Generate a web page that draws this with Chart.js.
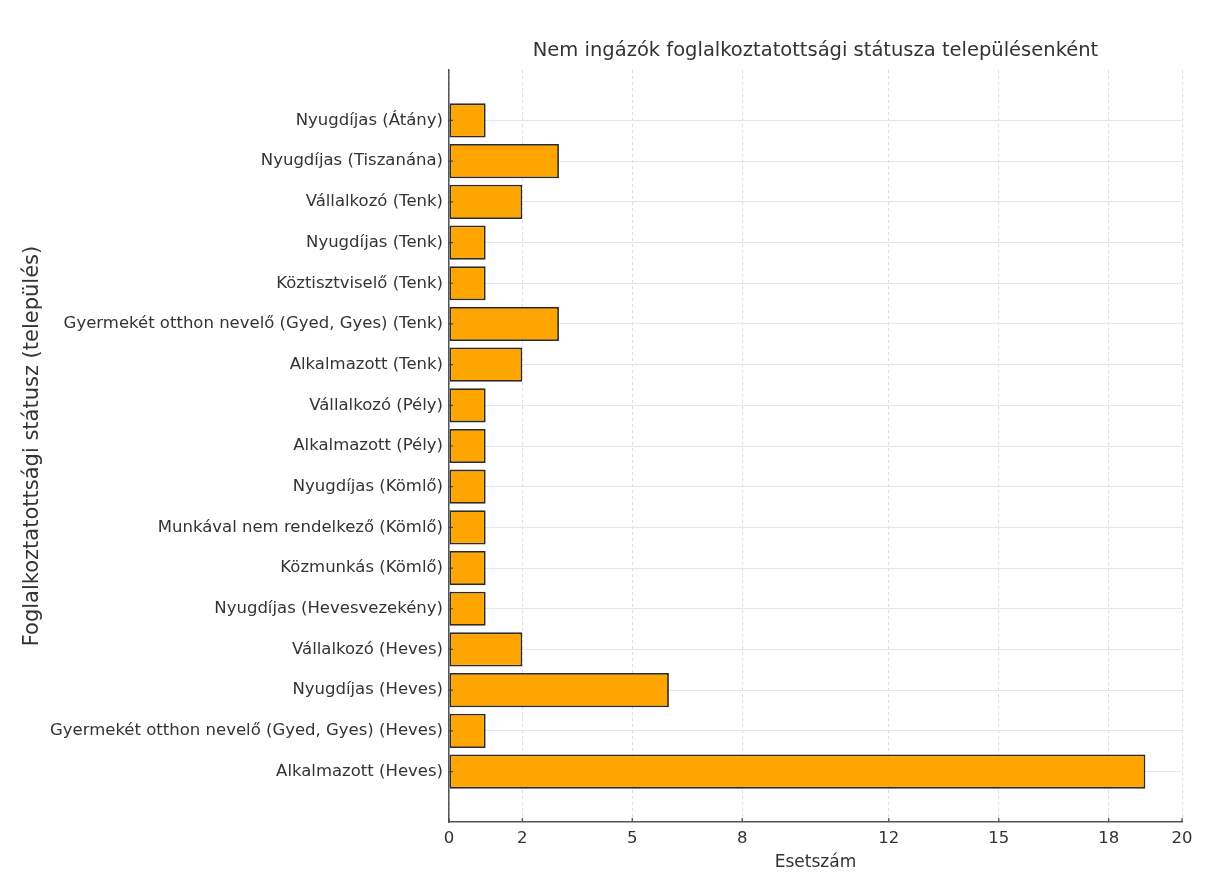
<!DOCTYPE html>
<html>
<head>
<meta charset="utf-8">
<script src="https://cdn.jsdelivr.net/npm/chart.js@4/dist/chart.umd.min.js"></script>
<style>
  html, body { margin: 0; padding: 0; background: #fff; }
  #wrap { width: 1209px; height: 874px; }
</style>
</head>
<body>
<div id="wrap"><canvas id="c" width="1209" height="874"></canvas></div>
<script>
const categories = [
  "Nyugdíjas (Átány)",
  "Nyugdíjas (Tiszanána)",
  "Vállalkozó (Tenk)",
  "Nyugdíjas (Tenk)",
  "Köztisztviselő (Tenk)",
  "Gyermekét otthon nevelő (Gyed, Gyes) (Tenk)",
  "Alkalmazott (Tenk)",
  "Vállalkozó (Pély)",
  "Alkalmazott (Pély)",
  "Nyugdíjas (Kömlő)",
  "Munkával nem rendelkező (Kömlő)",
  "Közmunkás (Kömlő)",
  "Nyugdíjas (Hevesvezekény)",
  "Vállalkozó (Heves)",
  "Nyugdíjas (Heves)",
  "Gyermekét otthon nevelő (Gyed, Gyes) (Heves)",
  "Alkalmazott (Heves)"
];
const counts = [1, 3, 2, 1, 1, 3, 2, 1, 1, 1, 1, 1, 1, 2, 6, 1, 19];
const xTickValues = [0, 2, 5, 8, 12, 15, 18, 20];

const titleText = "Nem ingázók foglalkoztatottsági státusza településenként";
const xTitle = "Esetszám";
const yTitle = "Foglalkoztatottsági státusz (település)";

const points = counts.map((v, i) => ({ x: v, y: i }));
const FONT = "'DejaVu Sans', sans-serif";

const inwardTicks = {
  id: 'inwardTicks',
  afterDatasetsDraw(chart) {
    const ctx = chart.ctx;
    const xs = chart.scales.x, ys = chart.scales.y;
    const a = chart.chartArea;
    ctx.save();
    ctx.strokeStyle = '#444';
    ctx.lineWidth = 1.2;
    ctx.beginPath();
    ys.ticks.forEach(t => {
      const y = ys.getPixelForValue(t.value);
      ctx.moveTo(a.left, y); ctx.lineTo(a.left + 4, y);
    });
    xs.ticks.forEach(t => {
      const x = xs.getPixelForValue(t.value);
      ctx.moveTo(x, a.bottom); ctx.lineTo(x, a.bottom - 4);
    });
    ctx.stroke();
    ctx.restore();
  },
  afterDraw(chart) {
    const ctx = chart.ctx;
    const a = chart.chartArea;
    ctx.save();
    ctx.fillStyle = '#333';
    ctx.font = "19.5px " + FONT;
    ctx.textAlign = 'center';
    ctx.textBaseline = 'middle';
    ctx.fillText(titleText, (a.left + a.right) / 2, 51);
    ctx.restore();
  }
};

new Chart(document.getElementById('c'), {
  type: 'bar',
  data: {
    datasets: [{
      data: points,
      backgroundColor: '#FFA500',
      borderColor: '#2e2a24',
      borderWidth: 1.8,
      borderSkipped: false,
      categoryPercentage: 1.0,
      barPercentage: 0.84
    }]
  },
  options: {
    indexAxis: 'y',
    responsive: false,
    animation: false,
    layout: { padding: { top: 70, right: 27, bottom: 0, left: 0 } },
    plugins: {
      legend: { display: false },
      title: { display: false },
      tooltip: { enabled: false }
    },
    scales: {
      x: {
        type: 'linear',
        min: 0,
        max: 20,
        offset: false,
        afterBuildTicks(scale) { scale.ticks = xTickValues.map(v => ({ value: v })); },
        afterFit(scale) { scale.height = 52; },
        grid: {
          color: '#dcdcdc',
          lineWidth: 1,
          drawTicks: false,
          offset: false
        },
        border: { display: true, color: '#555', width: 1.5, dash: [3, 3], dashOffset: 0 },
        ticks: {
          padding: 7,
          color: '#333',
          font: { family: FONT, size: 16.5 },
          maxRotation: 0,
          autoSkip: false
        },
        title: {
          display: true,
          text: xTitle,
          color: '#333',
          font: { family: FONT, size: 17 },
          padding: { top: 0, bottom: 1 }
        }
      },
      y: {
        type: 'linear',
        reverse: true,
        offset: false,
        min: -1.24,
        max: categories.length - 1 + 1.24,
        afterBuildTicks(scale) { scale.ticks = categories.map((_, i) => ({ value: i })); },
        afterFit(scale) { scale.width = 449; },
        grid: { color: '#e6e6e6', lineWidth: 1, drawTicks: false, offset: false },
        border: { display: true, color: '#555', width: 1.5 },
        ticks: {
          padding: 6,
          color: '#333',
          font: { family: FONT, size: 16.5 },
          autoSkip: false,
          callback: (v) => categories[v] ?? ''
        },
        title: {
          display: true,
          text: yTitle,
          color: '#333',
          font: { family: FONT, size: 21 },
          padding: { top: 20, bottom: 0 }
        }
      }
    }
  },
  plugins: [inwardTicks]
});
</script>
</body>
</html>
